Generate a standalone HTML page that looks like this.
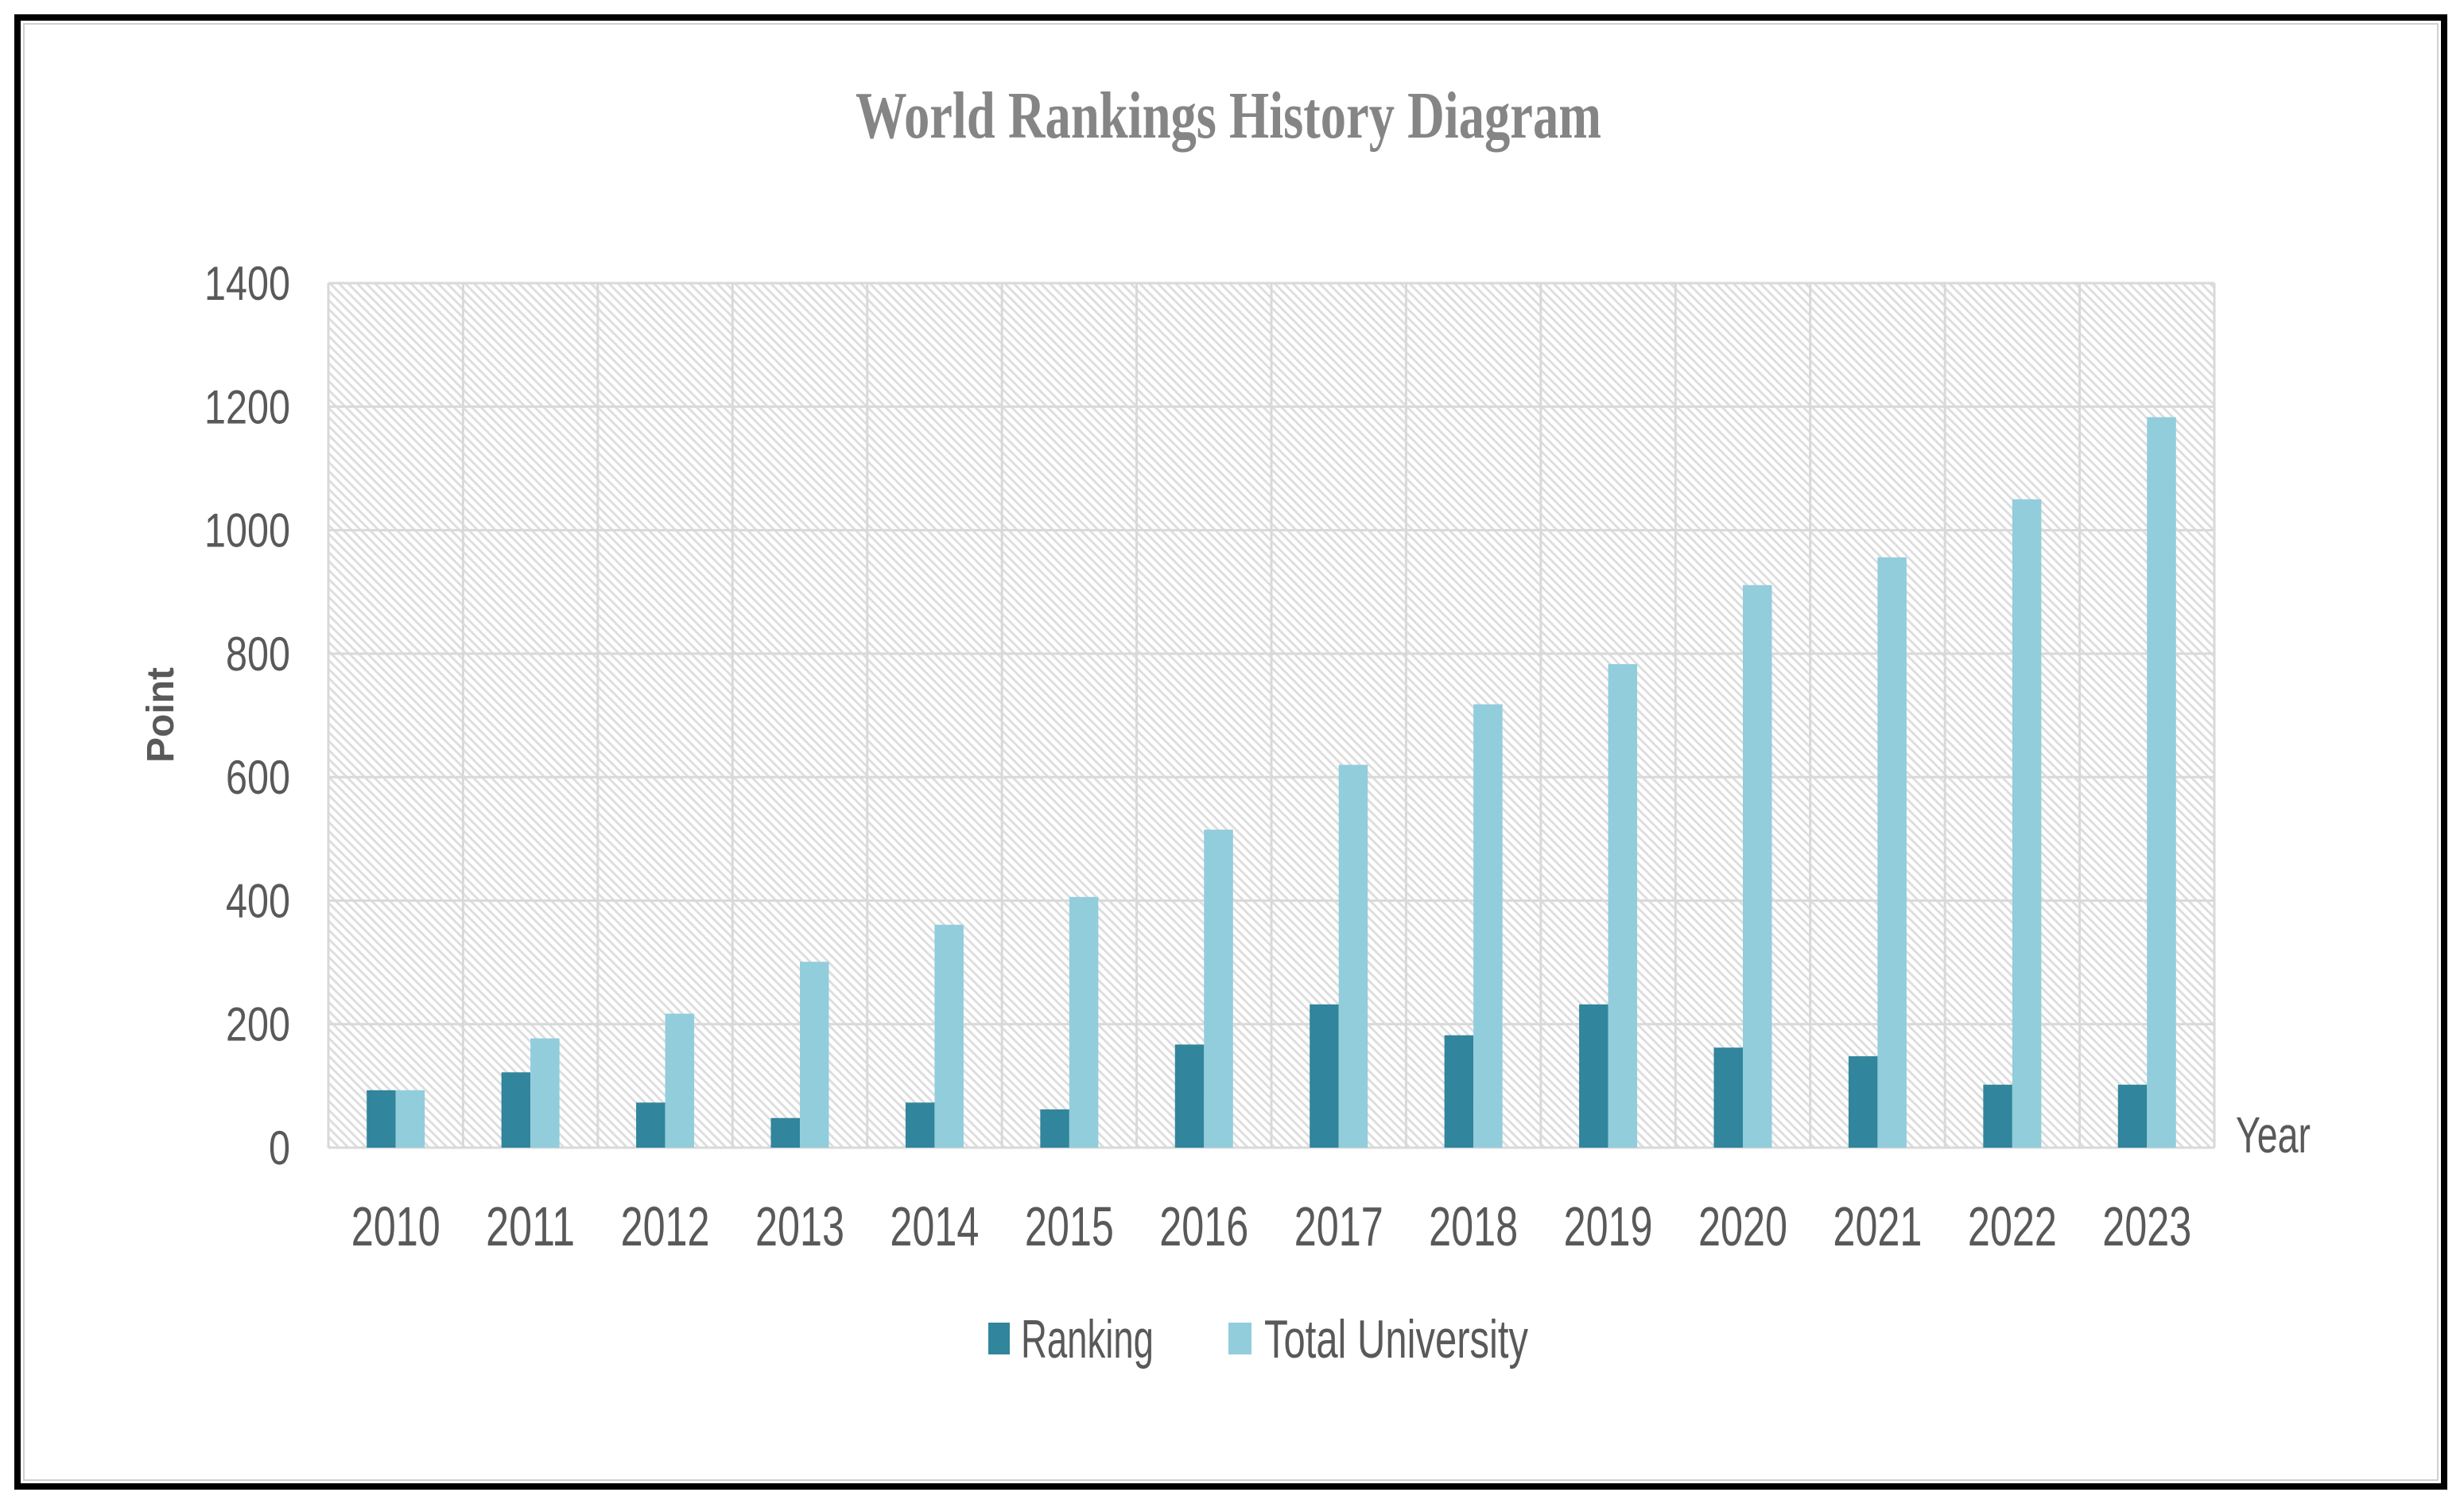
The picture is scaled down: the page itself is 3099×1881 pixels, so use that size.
<!DOCTYPE html>
<html><head><meta charset="utf-8"><style>
html,body{margin:0;padding:0;background:#fff;}
svg{display:block;}
</style></head><body>
<svg id="chart" width="3099" height="1881" viewBox="0 0 3099 1881" xmlns="http://www.w3.org/2000/svg">
<defs>
<pattern id="hatch" patternUnits="userSpaceOnUse" width="8" height="8" patternTransform="rotate(-45)">
<rect width="8" height="8" fill="#ffffff"/>
<rect x="0" y="0" width="3" height="8" fill="#dedede"/>
</pattern>
</defs>
<rect x="0" y="0" width="3099" height="1881" fill="#fff"/>
<rect x="22" y="22" width="3052" height="1847" fill="none" stroke="#000" stroke-width="8"/>
<rect x="30" y="30" width="3036" height="1831" fill="none" stroke="#d0d0d0" stroke-width="2"/>
<text x="1076" y="173" textLength="938" lengthAdjust="spacingAndGlyphs" font-family="Liberation Serif, serif" font-weight="bold" font-size="84" fill="#858585">World Rankings History Diagram</text>
<rect x="413" y="356" width="2372" height="1087" fill="url(#hatch)"/>
<g id="grid"></g>
<g id="bars"></g>
<g id="yticks"></g>
<g id="xticks"></g>
<text transform="translate(218,899) rotate(-90)" text-anchor="middle" font-family="Liberation Sans, sans-serif" font-weight="bold" font-size="48" fill="#595959">Point</text>
<text x="2812" y="1449" textLength="94" lengthAdjust="spacingAndGlyphs" font-family="Liberation Sans, sans-serif" font-size="64" fill="#595959">Year</text>
<g>
<rect x="1243" y="1663" width="27" height="40" fill="#31859c"/>
<text x="1284" y="1707" textLength="167" lengthAdjust="spacingAndGlyphs" font-family="Liberation Sans, sans-serif" font-size="68" fill="#595959">Ranking</text>
<rect x="1545" y="1663" width="29" height="40" fill="#92cddc"/>
<text x="1590" y="1707" textLength="332" lengthAdjust="spacingAndGlyphs" font-family="Liberation Sans, sans-serif" font-size="68" fill="#595959">Total University</text>
</g>
</svg>
<script>
const years = ["2010","2011","2012","2013","2014","2015","2016","2017","2018","2019","2020","2021","2022","2023"];
const ranking = [93,122,73,48,73,62,167,232,182,232,162,148,102,102];
const totalUniversity = [93,177,217,301,361,406,515,620,718,783,911,956,1050,1183];
const yTicks = [0,200,400,600,800,1000,1200,1400];

const NS = "http://www.w3.org/2000/svg";
const L = 413, R = 2785, T = 356, B = 1443, YMAX = 1400;
const bw = (R - L) / years.length;
const barW = 36.5;
function yPos(v){ return B - (v / YMAX) * (B - T); }
function xCenter(i){ return L + bw * (i + 0.5); }
function mk(tag, attrs, parent){ const e = document.createElementNS(NS, tag); for (const k in attrs) e.setAttribute(k, attrs[k]); parent.appendChild(e); return e; }

const grid = document.getElementById('grid');
yTicks.forEach(function(v){
  const ln = mk('line', {x1:L, x2:R, y1:yPos(v), y2:yPos(v), stroke:'#d9d9d9', 'stroke-width':3}, grid);
  
  
});
for (let i = 0; i <= years.length; i++) {
  const x = L + bw * i;
  const ln = mk('line', {x1:x, x2:x, y1:T, y2:B, stroke:'#d9d9d9', 'stroke-width':3}, grid);
  
  
}

const bars = document.getElementById('bars');
years.forEach(function(y, i){
  const c = xCenter(i);
  const r1 = mk('rect', {x:c - barW, y:yPos(ranking[i]), width:barW, height:B - yPos(ranking[i]), fill:'#31859c'}, bars);
  
  
  const r2 = mk('rect', {x:c, y:yPos(totalUniversity[i]), width:barW, height:B - yPos(totalUniversity[i]), fill:'#92cddc'}, bars);
  
  
});

const yt = document.getElementById('yticks');
yTicks.forEach(function(v){
  const t = mk('text', {x:365, y:yPos(v) + 21, 'text-anchor':'end', 'font-family':'Liberation Sans, sans-serif', 'font-size':60, fill:'#595959'}, yt);
  
  
  t.textContent = String(v);
  const s = String(v).length;
  t.setAttribute('textLength', s * 27);
  t.setAttribute('lengthAdjust', 'spacingAndGlyphs');
});

const xt = document.getElementById('xticks');
years.forEach(function(y, i){
  const t = mk('text', {x:xCenter(i), y:1566, 'text-anchor':'middle', 'font-family':'Liberation Sans, sans-serif', 'font-size':70, fill:'#595959', textLength:112, lengthAdjust:'spacingAndGlyphs'}, xt);
  
  
  t.textContent = y;
});
</script>
</body></html>
